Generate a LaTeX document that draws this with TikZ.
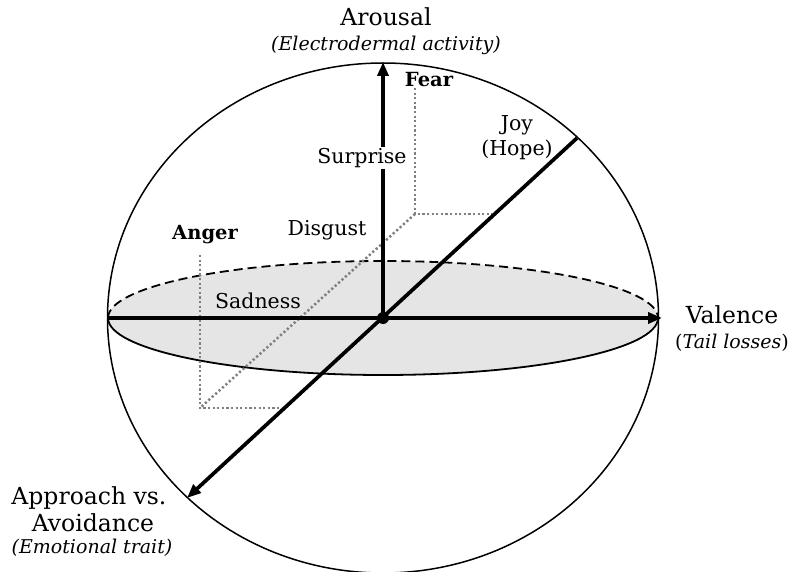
\documentclass[tikz,border=0pt]{standalone}
\usepackage{fontspec}
\setmainfont{DejaVu Serif}
\usetikzlibrary{arrows.meta}
\tikzset{
  big/.style={font=\fontsize{23.5}{27}\selectfont, inner sep=0pt},
  sub/.style={font=\fontsize{19}{22}\selectfont\itshape, inner sep=0pt},
  emo/.style={font=\fontsize{20.5}{25}\selectfont, inner sep=0pt},
  emob/.style={font=\fontsize{19.5}{23}\selectfont\bfseries, inner sep=0pt},
  axisline/.style={line width=3.7pt, -{Stealth[length=14pt,width=11pt,inset=0pt]}},
  guide/.style={draw=black!50, line width=2.5pt, dash pattern=on 2.2pt off 2.4pt},
  sphere/.style={line width=1.5pt},
  disk/.style={line width=1.8pt}
}
\begin{document}
\begin{tikzpicture}[x=1pt,y=-1pt]
\useasboundingbox (0,0) rectangle (792,572);
% key points
\coordinate (O) at (383,318);
\coordinate (L) at (108,318);
\coordinate (R) at (662,318);
\coordinate (T) at (383,62);
\coordinate (NE) at (577,138);
\coordinate (SW) at (187,498);
\coordinate (DL) at (108,318);
\coordinate (fearTop) at (415,88);
\coordinate (fearCorner) at (415,214);
\coordinate (fearEnd) at (492,214);
\coordinate (angerTop) at (200,255);
\coordinate (angerCorner) at (200,408);
\coordinate (angerEnd) at (286,408);
% disk
\fill[black!10] (O) ellipse [x radius=275, y radius=57];
\draw[disk, dash pattern=on 9pt off 5pt] (DL) arc [start angle=180, end angle=360, x radius=275, y radius=57];
\draw[disk] (DL) arc [start angle=180, end angle=0, x radius=275, y radius=57];
% guide lines
\draw[guide] (fearTop) -- (fearCorner) -- (fearEnd);
\draw[guide] (fearCorner) -- (angerCorner);
\draw[guide] (angerTop) -- (angerCorner) -- (angerEnd);
% sphere
\draw[sphere] (O) ellipse [x radius=275.5, y radius=255];
% axes
\draw[axisline] (L) -- (R);
\draw[axisline] (O) -- (T);
\draw[axisline] (NE) -- (SW);
\fill (O) circle [radius=6];
% labels
\node[big] (arousal) at (386,17) {Arousal};
\node[sub] (eda) at (386,45) {(Electrodermal activity)};
\node[emob] (fear) at (429,80) {Fear};
\node[emo] (joy) at (517,125) {Joy};
\node[emo] (hope) at (517,150) {(Hope)};
\node[emo, fill=white, inner sep=1.5pt] (surprise) at (362,158) {Surprise};
\node[emo] (disgust) at (327,230) {Disgust};
\node[emob] (anger) at (205,235) {Anger};
\node[emo] (sadness) at (258,301) {Sadness};
\node[big] (valence) at (732,315) {Valence};
\node[sub] (tail) at (732,343) {\upshape(\textit{Tail losses})};
\node[big] (approach) at (89,498) {Approach vs.};
\node[big] (avoid) at (93,523) {Avoidance};
\node[sub] (emot) at (92,548) {(Emotional trait)};
\end{tikzpicture}
\end{document}
